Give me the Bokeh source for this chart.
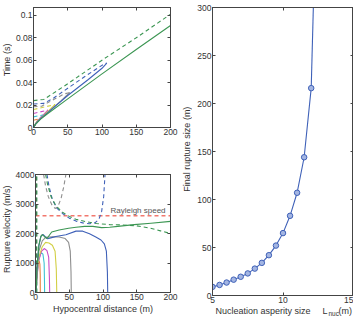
import math
from bokeh.plotting import figure
from bokeh.layouts import row, column
from bokeh.models import Range1d, FixedTicker, LinearAxis, CustomJSTickFormatter
from bokeh.core.properties import value
from bokeh.embed import file_html
from bokeh.resources import INLINE

# ---------------- data: top-left (time vs hypocentral distance) ----------------
T_ORANGE_X = [0, 2, 5, 7]
T_ORANGE_T = [0, 0.0025, 0.0055, 0.0075]
T_ORANGE_DX = [0, 7]
T_ORANGE_DT = [0.0065, 0.0075]
T_CYAN_X = [0, 3, 8, 13.5]
T_CYAN_T = [0, 0.0033, 0.0072, 0.0112]
T_CYAN_DX = [0, 13.5]
T_CYAN_DT = [0.0095, 0.0112]
T_MAG_X = [0, 3, 10, 21]
T_MAG_T = [0, 0.0032, 0.0085, 0.0155]
T_MAG_DX = [0, 21]
T_MAG_DT = [0.0125, 0.0155]
T_YEL_X = [0, 3, 10, 20, 31.5]
T_YEL_T = [0, 0.003, 0.008, 0.0138, 0.0205]
T_YEL_DX = [0, 31.5]
T_YEL_DT = [0.016, 0.0205]
T_GRAY_X = [0, 3, 10, 20, 40, 53]
T_GRAY_T = [0, 0.003, 0.0078, 0.013, 0.0238, 0.0312]
T_GRAY_DX = [0, 12, 25, 45, 53]
T_GRAY_DT = [0.0185, 0.019, 0.0235, 0.030, 0.0312]
T_BLUE_X = [0, 3, 10, 20, 50, 80, 100, 107]
T_BLUE_T = [0, 0.003, 0.0075, 0.0128, 0.0285, 0.0428, 0.0528, 0.0575]
T_BLUE_DX = [0, 15, 30, 50, 75, 95, 103, 107]
T_BLUE_DT = [0.021, 0.0215, 0.0265, 0.035, 0.0455, 0.0535, 0.0565, 0.0575]
T_GREEN_X = [0, 3, 10, 20, 50, 100, 150, 200]
T_GREEN_T = [0, 0.003, 0.0072, 0.012, 0.0255, 0.0478, 0.0695, 0.091]
T_GREEN_DX = [0, 15, 50, 100, 150, 200]
T_GREEN_DT = [0.024, 0.025, 0.039, 0.060, 0.080, 0.101]

# ---------------- data: bottom-left (rupture velocity) ----------------
V_ORANGE_X = [0.8, 1.5, 3, 4.5, 5.5, 6.5, 7, 7.1]
V_ORANGE_V = [0, 400, 850, 1040, 1060, 950, 600, 0]
V_CYAN_X = [1, 2, 4, 7, 9, 11, 12.8, 13.3, 13.5]
V_CYAN_V = [0, 500, 1000, 1300, 1340, 1300, 1000, 400, 0]
V_MAG_X = [1, 2, 5, 9, 13, 17, 19.5, 20.6, 21]
V_MAG_V = [0, 500, 1100, 1400, 1490, 1420, 1200, 500, 0]
V_YEL_X = [1, 2, 5, 10, 15, 20, 25, 29, 30.8, 31.5]
V_YEL_V = [0, 600, 1200, 1550, 1700, 1680, 1600, 1400, 800, 0]
V_GRAY_X = [1, 2, 5, 10, 15, 25, 35, 44, 49, 51.5, 52.6, 53]
V_GRAY_V = [0, 700, 1400, 1750, 1870, 1890, 1880, 1830, 1700, 1400, 700, 0]
V_BLUE_X = [1, 2, 5, 8, 11, 14, 18, 24, 30, 45, 60, 70, 80, 90, 97, 102, 105, 106.5, 107]
V_BLUE_V = [0, 800, 1600, 1900, 1970, 1900, 1820, 1860, 1900, 1960, 2080, 2080, 1990, 1870, 1780, 1650, 1400, 700, 0]
V_GREEN_X = [1, 2, 5, 8, 10, 13, 17, 24, 35, 49, 60, 73, 85, 98, 110, 122, 146, 171, 200]
V_GREEN_V = [0, 800, 1600, 1900, 1960, 1900, 1830, 2050, 2120, 2180, 2210, 2240, 2240, 2200, 2210, 2240, 2300, 2350, 2410]
V_DARK1_X = [1.2, 1.2]
V_DARK2_X = [2.0, 2.0]
V_DARK_V = [0, 4000]
V_GRAY_DX = [12, 15, 19, 24, 29, 33, 38, 42, 45]
V_GRAY_DV = [4000, 3600, 3250, 2980, 2850, 2900, 3200, 3600, 4000]
V_BLUE_DX = [17, 20, 25, 32, 40, 50, 60, 70, 80, 88, 94, 98, 101, 103]
V_BLUE_DV = [4000, 3600, 3150, 2850, 2680, 2520, 2420, 2360, 2330, 2360, 2480, 2750, 3250, 4000]
V_GREEN_DX = [15, 18, 23, 30, 40, 50, 60, 75, 90, 110, 130, 150, 170, 185, 200]
V_GREEN_DV = [4000, 3650, 3250, 2950, 2720, 2580, 2480, 2400, 2340, 2300, 2290, 2260, 2180, 2090, 2000]
RAYLEIGH_X = [0, 200]
RAYLEIGH_V = [2600, 2600]
RAYLEIGH_LABEL = "Rayleigh speed"

# ---------------- data: right (final rupture size) ----------------
NUC_SIZE = [5, 5.5, 6, 6.5, 7, 7.5, 8, 8.5, 9, 9.5, 10, 10.5, 11, 11.5, 12]
FINAL_SIZE = [9, 11, 13.5, 16.5, 19.5, 23, 28, 34, 42, 52, 65, 83, 107, 144, 216]
NUC_TAIL = [12, 12.17]
SIZE_TAIL = [216, 310]

XT_LEFT = [0, 50, 100, 150, 200]
YT_TIME = [0, 0.02, 0.04, 0.06, 0.08, 0.1]
YT_VEL = [0, 1000, 2000, 3000, 4000]
XT_RIGHT = [5, 10, 15]
YT_RIGHT = [0, 50, 100, 150, 200, 250, 300]

FONT = "Liberation Sans"
TXT = "#333333"
AX = "#444444"
ORANGE = "#E9833F"
CYAN = "#3CC3D2"
MAG = "#C84BC8"
YEL = "#D2CF45"
GRAY = "#8E8E8E"
BLUE = "#3F61B8"
GREEN = "#3C9653"
DARK = "#2F4A3C"
LW = 1.1


def style(p, xt, yt):
    for ax in list(p.xaxis) + list(p.yaxis):
        ax.major_tick_in = 3
        ax.major_tick_out = 0
        ax.minor_tick_in = 0
        ax.minor_tick_out = 0
        ax.axis_line_color = AX
        ax.major_tick_line_color = AX
        ax.major_label_text_font = FONT
        ax.major_label_text_font_size = "8.5px"
        ax.major_label_text_color = TXT
        ax.major_label_standoff = 1
        ax.axis_label_text_font = FONT
        ax.axis_label_text_font_size = "9px"
        ax.axis_label_text_font_style = "normal"
        ax.axis_label_text_color = TXT
        ax.axis_label_standoff = 1
    p.xaxis.ticker = FixedTicker(ticks=xt)
    p.yaxis.ticker = FixedTicker(ticks=yt)
    p.xgrid.visible = False
    p.ygrid.visible = False
    p.outline_line_color = AX
    blank = CustomJSTickFormatter(code="return ''")
    for loc, ticks in (("above", xt), ("right", yt)):
        a = LinearAxis(ticker=FixedTicker(ticks=ticks), formatter=blank,
                       major_tick_in=3, major_tick_out=0, minor_tick_in=0, minor_tick_out=0,
                       major_label_standoff=0, major_label_text_font_size="1px",
                       axis_line_color=AX, major_tick_line_color=AX)
        p.add_layout(a, loc)


def fig(w, h, xr, yr, bl, br, bt, bb):
    return figure(width=w, height=h, x_range=Range1d(*xr), y_range=Range1d(*yr), title=None,
                  output_backend="svg", toolbar_location=None,
                  min_border_left=bl, min_border_right=br, min_border_top=bt, min_border_bottom=bb,
                  background_fill_color="white", border_fill_color="white")


def strip(w, h):
    s = figure(width=w, height=h, x_range=Range1d(0, w), y_range=Range1d(0, h), title=None,
               output_backend="svg", toolbar_location=None, x_axis_type=None, y_axis_type=None,
               min_border_left=0, min_border_right=0, min_border_top=0, min_border_bottom=0,
               background_fill_color="white", border_fill_color="white")
    s.outline_line_color = None
    s.xgrid.visible = False
    s.ygrid.visible = False
    return s


def put(s, x, y, txt, size="9px", angle=0.0, align="left", baseline="middle"):
    s.text(x=[x], y=[y], text=[txt], angle=angle, text_font=value(FONT), text_font_size=size,
           text_color=TXT, text_align=align, text_baseline=baseline)


# ---------- top-left ----------
p1 = fig(168, 167, (0, 200), (0, 0.107), 21, 10, 7, 40)
for xs, ys, c in ((T_ORANGE_X, T_ORANGE_T, ORANGE), (T_CYAN_X, T_CYAN_T, CYAN), (T_MAG_X, T_MAG_T, MAG),
                  (T_YEL_X, T_YEL_T, YEL), (T_GRAY_X, T_GRAY_T, GRAY), (T_BLUE_X, T_BLUE_T, BLUE),
                  (T_GREEN_X, T_GREEN_T, GREEN)):
    p1.line(xs, ys, line_color=c, line_width=LW)
for xs, ys, c in ((T_ORANGE_DX, T_ORANGE_DT, ORANGE), (T_CYAN_DX, T_CYAN_DT, CYAN), (T_MAG_DX, T_MAG_DT, MAG),
                  (T_YEL_DX, T_YEL_DT, YEL), (T_GRAY_DX, T_GRAY_DT, GRAY), (T_BLUE_DX, T_BLUE_DT, BLUE),
                  (T_GREEN_DX, T_GREEN_DT, GREEN)):
    p1.line(xs, ys, line_color=c, line_width=LW, line_dash="4 3")
style(p1, XT_LEFT, YT_TIME)
s1 = strip(12, 167)
put(s1, 6.5, 94, "Time (s)", angle=math.pi / 2, align="center")

# ---------- bottom-left ----------
p2 = fig(168, 149, (0, 200), (0, 4000), 21, 10, 7, 21)
p2.line(RAYLEIGH_X, RAYLEIGH_V, line_color="#F2776D", line_width=1.6, line_dash="4 3")
for xs, ys, c in ((V_DARK1_X, V_DARK_V, DARK), (V_DARK2_X, V_DARK_V, GREEN),
                  (V_GRAY_DX, V_GRAY_DV, GRAY), (V_BLUE_DX, V_BLUE_DV, BLUE), (V_GREEN_DX, V_GREEN_DV, GREEN)):
    p2.line(xs, ys, line_color=c, line_width=LW, line_dash="4 3")
for xs, ys, c in ((V_ORANGE_X, V_ORANGE_V, ORANGE), (V_CYAN_X, V_CYAN_V, CYAN), (V_MAG_X, V_MAG_V, MAG),
                  (V_YEL_X, V_YEL_V, YEL), (V_GRAY_X, V_GRAY_V, GRAY), (V_BLUE_X, V_BLUE_V, BLUE),
                  (V_GREEN_X, V_GREEN_V, GREEN)):
    p2.line(xs, ys, line_color=c, line_width=LW)
p2.text(x=[111], y=[2790], text=[RAYLEIGH_LABEL], text_font=value(FONT), text_font_size="8px",
        text_color="#555555", text_baseline="middle")
p2.xaxis.axis_label = "Hypocentral distance (m)"
style(p2, XT_LEFT, YT_VEL)
s2 = strip(12, 149)
put(s2, 6.5, 80, "Rupture velocity (m/s)", angle=math.pi / 2, align="center")

# ---------- right ----------
p3 = fig(161, 305, (5, 15), (0, 300), 20, 0, 7, 10)
p3.line(NUC_SIZE, FINAL_SIZE, line_color=BLUE, line_width=LW)
p3.line(NUC_TAIL, SIZE_TAIL, line_color=BLUE, line_width=LW)
p3.scatter(NUC_SIZE, FINAL_SIZE, marker="circle", size=5.5, line_color=BLUE, fill_color="#A3B5E2", line_width=1)
style(p3, XT_RIGHT, YT_RIGHT)
s3 = strip(12, 305)
put(s3, 6.5, 155, "Final rupture size (m)", angle=math.pi / 2, align="center")
xs3 = strip(173, 11)
put(xs3, 35, 6.8, "Nucleation asperity size")
put(xs3, 142, 6.8, "L")
put(xs3, 148, 3.8, "nuc", size="6.5px")
put(xs3, 158, 6.8, "(m)")

left = column(row(s1, p1, spacing=0), row(s2, p2, spacing=0), spacing=0)
right = column(row(s3, p3, spacing=0), xs3, spacing=0)
layout = row(left, right, spacing=0)
open("out.html", "w").write(file_html(layout, INLINE))
